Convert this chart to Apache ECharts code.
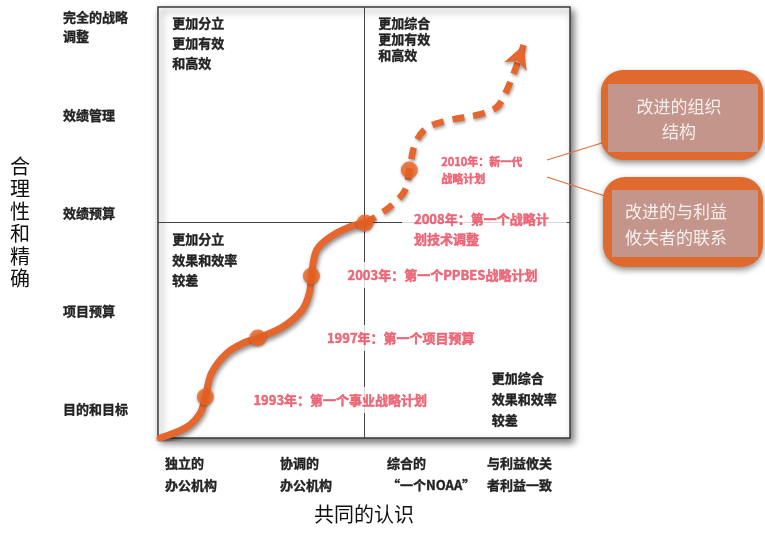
<!DOCTYPE html>
<html><head><meta charset="utf-8">
<script src="https://cdn.jsdelivr.net/npm/echarts@6/dist/echarts.min.js"></script>
<style>html,body{margin:0;padding:0;background:#fff}#c{width:765px;height:540px}</style>
</head><body><div id="c"></div>
<script>
// ---- data ----
const xLabels = ['独立的\n办公机构', '协调的\n办公机构', '综合的\n“一个NOAA”', '与利益攸关\n者利益一致'];
const yTickValues = [3, 13, 23, 33, 43];
const yLabels = ['目的和目标', '项目预算', '效绩预算', '效绩管理', '完全的战略\n调整'];
const xTitle = '共同的认识';
const yTitle = '合理性和精确';
// achieved path (solid)
const solidX = [0.02, 0.28, 0.41, 0.46, 0.52, 0.67, 0.83, 0.97, 1.21, 1.40, 1.47, 1.49, 1.54, 1.67, 1.86, 2.01];
const solidY = [0.0, 1.12, 2.55, 4.19, 6.64, 8.68, 9.70, 10.21, 11.33, 13.07, 14.80, 16.54, 19.19, 20.52, 21.54, 21.95];
// future path (dashed)
const dashX = [2.01, 2.25, 2.40, 2.44, 2.50, 2.61, 2.84, 3.10, 3.29, 3.40, 3.49, 3.55];
const dashY = [21.95, 23.58, 25.32, 27.36, 30.12, 31.65, 32.47, 32.98, 33.79, 35.83, 38.28, 40.12];
// milestones
const years = [1993, 1997, 2003, 2008, 2010];
const mileX = [0.46, 0.97, 1.49, 2.01, 2.44];
const mileY = [4.19, 10.21, 16.54, 21.95, 27.36];
const mileText = ['1993年：第一个事业战略计划', '1997年：第一个项目预算', '2003年：第一个PPBES战略计划', '2008年：第一个战略计\n划技术调整', '2010年：新一代\n战略计划'];
const quadText = ['更加分立\n更加有效\n和高效', '更加综合\n更加有效\n和高效', '更加分立\n效果和效率\n较差', '更加综合\n效果和效率\n较差'];
const calloutText = ['改进的组织\n结构', '改进的与利益\n攸关者的联系'];

// ---- layout / styles ----
const FONT = '"Noto Sans CJK SC", sans-serif';
const ORANGE = '#e5672e';
const DOT = '#f26522';
const RED = '#e8475b';
const INK = '#222';
const labelOffsets = [[27.5, 3], [48.5, 0], [15.5, -1], [28.5, 6], [11.5, 0]];
const labelSizes = [13, 13, 13, 13, 11];
const labelLH = [18, 18, 18, 20, 17];
const xPad = [7, 19, 23, 20];

const chart = echarts.init(document.getElementById('c'));
const rich = {};
xPad.forEach((p, i) => {
  rich['p' + i] = {fontFamily: FONT, fontSize: 13, fontWeight: 'bold', color: INK, lineHeight: 22, padding: [0, 0, 0, p],
    textBorderColor: INK, textBorderWidth: 0.35};
});
const quadStyle = (t, lh, extra) => Object.assign({text: t, font: 'bold 13px ' + FONT, fill: INK, lineHeight: lh, stroke: INK, lineWidth: 0.35}, extra || {});

const option = {
  animation: false,
  backgroundColor: '#fff',
  grid: {left: 158, right: 195, top: 7, bottom: 102, show: true, backgroundColor: '#fff',
    containLabel: false, outerBoundsMode: 'none',
    borderColor: '#3a3a3a', borderWidth: 1.5,
    shadowBlur: 7, shadowColor: 'rgba(0,0,0,0.55)', shadowOffsetX: 3, shadowOffsetY: 4},
  xAxis: {type: 'value', min: 0, max: 4, interval: 1,
    axisLine: {show: false}, axisTick: {show: false}, splitLine: {show: false},
    name: xTitle, nameLocation: 'middle', nameGap: 76,
    nameTextStyle: {fontFamily: FONT, fontSize: 20, color: '#111', verticalAlign: 'middle'},
    axisLabel: {align: 'left', verticalAlign: 'top', margin: 14, rich: rich,
      formatter: v => {
        const i = Math.round(v);
        if (Math.abs(v - i) > 1e-6 || i >= xLabels.length) return '';
        return xLabels[i].split('\n').map(l => '{p' + i + '|' + l + '}').join('\n');
      }}},
  yAxis: {type: 'value', min: 0, max: 44, interval: 1,
    axisLine: {show: false}, axisTick: {show: false}, splitLine: {show: false},
    name: yTitle.split('').join('\n'), nameLocation: 'middle', nameGap: 138, nameRotate: 0,
    nameTextStyle: {fontFamily: FONT, fontSize: 20, color: '#111', lineHeight: 22.5, align: 'center', verticalAlign: 'middle', padding: [0, 0, 16, 0]},
    axisLabel: {align: 'left', margin: 95, fontFamily: FONT, fontSize: 13, fontWeight: 'bold', color: INK, lineHeight: 19,
      textBorderColor: INK, textBorderWidth: 0.35,
      formatter: v => {
        const k = yTickValues.indexOf(Math.round(v));
        if (k < 0 || Math.abs(v - Math.round(v)) > 1e-6) return '';
        const t = yLabels[k];
        return t.indexOf('\n') >= 0 ? '\n' + t : t;
      }}},
  series: [
    {type: 'line', z: 1, data: [], silent: true,
      markLine: {z: 1, silent: true, symbol: 'none', label: {show: false},
        lineStyle: {color: '#444', width: 1, type: 'solid'},
        data: [{xAxis: 2}, {yAxis: 22}]}},
    {type: 'line', z: 3, smooth: 0.35, showSymbol: false, silent: true,
      data: solidX.map((x, i) => [x, solidY[i]]),
      lineStyle: {color: ORANGE, width: 7, cap: 'round', shadowColor: 'rgba(0,0,0,0.45)', shadowBlur: 4, shadowOffsetX: 1, shadowOffsetY: 3}},
    {type: 'line', z: 3, smooth: 0.35, silent: true,
      data: dashX.map((x, i) => (i === dashX.length - 1)
        ? {value: [x, dashY[i]], symbol: 'arrow', symbolSize: [18, 23], symbolRotate: -21, itemStyle: {color: ORANGE, shadowColor: 'rgba(0,0,0,0.35)', shadowBlur: 3, shadowOffsetY: 2}}
        : {value: [x, dashY[i]], symbol: 'none'}),
      lineStyle: {color: ORANGE, width: 6.5, type: [12, 9], cap: 'butt', shadowColor: 'rgba(0,0,0,0.35)', shadowBlur: 3, shadowOffsetX: 1, shadowOffsetY: 2}},
    {type: 'scatter', z: 4, symbolSize: 17, silent: true,
      itemStyle: {color: DOT, shadowColor: 'rgba(0,0,0,0.4)', shadowBlur: 3, shadowOffsetY: 1},
      data: years.map((y, i) => ({name: String(y), value: [mileX[i], mileY[i]],
        label: {show: true, position: 'right', distance: 0, offset: labelOffsets[i],
          formatter: mileText[i], color: RED, fontFamily: FONT, fontWeight: 'bold',
          textBorderColor: RED, textBorderWidth: 0.45,
          fontSize: labelSizes[i], lineHeight: labelLH[i], backgroundColor: '#fff', padding: [4, 18, 4, 12]}}))}
  ],
  graphic: [
    {type: 'text', left: 172, top: 13, style: quadStyle(quadText[0], 20)},
    {type: 'text', left: 378, top: 15, style: quadStyle(quadText[1], 16)},
    {type: 'text', left: 172, top: 229, style: quadStyle(quadText[2], 20.5)},
    {type: 'text', right: 208, top: 368, style: quadStyle(quadText[3], 21, {align: 'right'})},
    {type: 'line', shape: {x1: 547, y1: 160, x2: 605, y2: 142}, style: {stroke: '#e0703c', lineWidth: 1.2}},
    {type: 'line', shape: {x1: 547, y1: 177, x2: 605, y2: 196}, style: {stroke: '#e0703c', lineWidth: 1.2}},
    {type: 'rect', shape: {x: 601, y: 70, width: 162, height: 90, r: 22}, style: {fill: '#e0692e', shadowBlur: 6, shadowColor: 'rgba(0,0,0,0.45)', shadowOffsetY: 3}},
    {type: 'rect', shape: {x: 608, y: 84, width: 150, height: 68}, style: {fill: '#c4958a'}},
    {type: 'text', x: 679, y: 119, style: {text: calloutText[0], font: '17px ' + FONT, fill: '#f6efee', align: 'center', verticalAlign: 'middle', lineHeight: 25}},
    {type: 'rect', shape: {x: 603, y: 177, width: 160, height: 90, r: 22}, style: {fill: '#e0692e', shadowBlur: 6, shadowColor: 'rgba(0,0,0,0.45)', shadowOffsetY: 3}},
    {type: 'rect', shape: {x: 612, y: 190, width: 146, height: 67}, style: {fill: '#c4958a'}},
    {type: 'text', x: 676, y: 225, style: {text: calloutText[1], font: '17px ' + FONT, fill: '#f6efee', align: 'center', verticalAlign: 'middle', lineHeight: 26}}
  ]
};
chart.setOption(option);
</script></body></html>
